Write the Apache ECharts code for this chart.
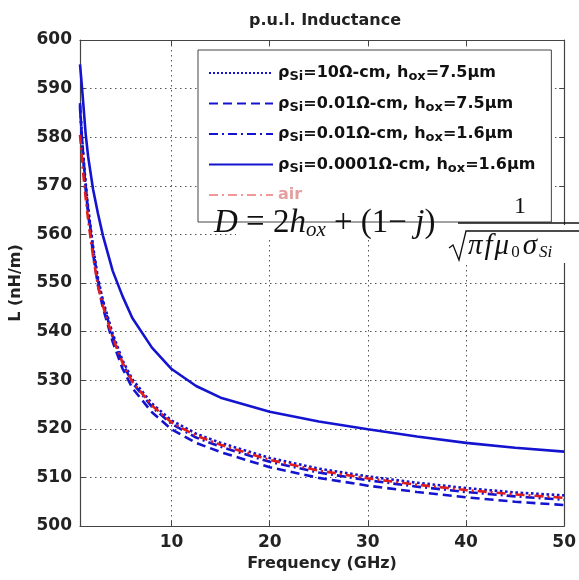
<!DOCTYPE html>
<html>
<head>
<meta charset="utf-8">
<script src="https://cdn.jsdelivr.net/npm/echarts@6/dist/echarts.min.js"></script>
<style>html,body{margin:0;padding:0;background:#fff}#c{width:579px;height:580px}</style>
</head>
<body>
<div id="c"></div>
<script>
const freq = [0.67, 0.8, 1, 1.25, 1.5, 2, 2.5, 3, 4, 5, 6, 8, 10, 12.5, 15, 20, 25, 30, 35, 40, 45, 50];
const L_rho10_h75 = [586.5, 582.5, 576.5, 570.5, 565.5, 557.5, 551, 546.5, 539.6, 534.1, 530.2, 525.2, 521.7, 519, 517.1, 514, 511.8, 510.2, 508.9, 507.8, 506.9, 506.3];
const L_rho001_h75 = [587, 582, 575.5, 569.3, 564.2, 556, 549.5, 544.9, 537.9, 532.4, 528.4, 523.4, 519.9, 517.1, 515.2, 512.1, 509.9, 508.3, 507, 505.9, 505, 504.3];
const L_rho001_h16 = [586, 582, 576, 570, 565, 557, 550.5, 546, 539, 533.5, 529.5, 524.5, 521, 518.2, 516.3, 513.2, 511, 509.4, 508.1, 507, 506.1, 505.4];
const L_rho00001_h16 = [595, 592, 587, 580.6, 576, 569.3, 564.3, 559.8, 552.5, 547.3, 542.8, 536.7, 532.3, 528.8, 526.4, 523.5, 521.5, 519.9, 518.4, 517.1, 516.1, 515.3];
const L_air = [580.5, 577.5, 572.5, 567.5, 563, 555.5, 549.5, 545.3, 538.8, 533.6, 529.7, 524.8, 521.3, 518.6, 516.7, 513.6, 511.4, 509.8, 508.5, 507.4, 506.5, 505.8];
const xTicks = [10, 20, 30, 40, 50];
const seriesNames = [
  'ρ{s|Si}=10Ω-cm, h{s|ox}=7.5μm',
  'ρ{s|Si}=0.01Ω-cm, h{s|ox}=7.5μm',
  'ρ{s|Si}=0.01Ω-cm, h{s|ox}=1.6μm',
  'ρ{s|Si}=0.0001Ω-cm, h{s|ox}=1.6μm',
  'air'
];
const title = 'p.u.l. Inductance';
const xName = 'Frequency (GHz)';
const yName = 'L (nH/m)';

const BLUE = '#1414d0', RED = '#e01c1c';
const FONT = 'DejaVu Sans, Verdana, sans-serif';
const SERIF = 'Liberation Serif, Times New Roman, serif';

function pairs(ys){ return freq.map((f,i)=>[f, ys[i]]); }
function mk(name, ys, color, type, z){
  return {
    name, type:'line', data: pairs(ys), symbol:'none', smooth:false,
    lineStyle:{color, width:2.6, type}, itemStyle:{color}, z, animation:false, clip:true
  };
}

const chart = echarts.init(document.getElementById('c'), null, {renderer:'canvas'});
const gridLine = {show:true, lineStyle:{color:'#555', width:1, type:[1.5,3.5]}};
const axLine = {show:true, onZero:false, lineStyle:{color:'#444', width:1.2}};
chart.setOption({
  animation:false,
  backgroundColor:'#fff',
  title:{text:title, left:320, textAlign:'center', top:8,
    textStyle:{fontFamily:FONT, fontWeight:'bold', fontSize:16, color:'#222'}},
  grid:{left:80, right:10, top:40, bottom:54},
  xAxis:[{
    type:'value', min:0.67, max:50,
    name:xName, nameLocation:'middle', nameGap:30,
    nameTextStyle:{fontFamily:FONT, fontWeight:'bold', fontSize:16, color:'#222'},
    axisLine:axLine,
    axisTick:{show:true, inside:true, length:5, customValues:xTicks, lineStyle:{color:'#444'}},
    axisLabel:{customValues:xTicks, margin:8, fontFamily:FONT, fontWeight:'bold', fontSize:17, color:'#222'},
    splitLine:gridLine
  },{
    type:'value', min:0.67, max:50, position:'top',
    axisLine:axLine,
    axisTick:{show:true, inside:true, length:5, customValues:xTicks, lineStyle:{color:'#444'}},
    axisLabel:{show:false}, splitLine:{show:false}
  }],
  yAxis:[{
    type:'value', min:500, max:600, interval:10,
    name:yName, nameLocation:'middle', nameGap:56, nameRotate:90,
    nameTextStyle:{fontFamily:FONT, fontWeight:'bold', fontSize:16, color:'#222'},
    axisLine:axLine,
    axisTick:{show:true, inside:true, length:5, lineStyle:{color:'#444'}},
    axisLabel:{margin:8, fontFamily:FONT, fontWeight:'bold', fontSize:17, color:'#222'},
    splitLine:gridLine
  },{
    type:'value', min:500, max:600, interval:10, position:'right',
    axisLine:axLine,
    axisTick:{show:true, inside:true, length:5, lineStyle:{color:'#444'}},
    axisLabel:{show:false}, splitLine:{show:false}
  }],
  legend:{
    orient:'vertical', left:198, top:50, align:'left',
    backgroundColor:'#fff', borderColor:'#444', borderWidth:1,
    padding:[15, 16, 19, 10], itemGap:12, itemWidth:64, itemHeight:14,
    itemStyle:{opacity:0},
    textStyle:{fontFamily:FONT, fontWeight:'bold', fontSize:16, color:'#111',
      rich:{s:{fontFamily:FONT, fontWeight:'bold', fontSize:13, color:'#111', padding:[8,0,0,0]}}},
    data:[
      {name:seriesNames[0]},
      {name:seriesNames[1]},
      {name:seriesNames[2]},
      {name:seriesNames[3]},
      {name:seriesNames[4], textStyle:{color:'#e4a0a0'}, lineStyle:{opacity:0.45}}
    ]
  },
  series:[
    mk(seriesNames[0], L_rho10_h75, BLUE, 'dotted', 3),
    mk(seriesNames[1], L_rho001_h75, BLUE, [9,5], 3),
    mk(seriesNames[2], L_rho001_h16, BLUE, [9,4,2,4], 3),
    mk(seriesNames[3], L_rho00001_h16, BLUE, 'solid', 3),
    mk(seriesNames[4], L_air, RED, [9,4,2,4], 4)
  ],
  graphic:[
    {type:'rect', z:100, shape:{x:236, y:225, width:210, height:14}, style:{fill:'#fff'}},
    {type:'rect', z:100, shape:{x:445, y:225, width:134, height:38}, style:{fill:'#fff'}},
    {type:'text', z:101, left:214, top:207, style:{
      text:'{i|D} = 2{i|h}{sub|ox} + (1− {i|j})',
      font:'33px '+SERIF, fill:'#111',
      rich:{i:{fontFamily:SERIF, fontStyle:'italic', fontSize:33, fill:'#111'},
            sub:{fontFamily:SERIF, fontStyle:'italic', fontSize:21, fill:'#111', padding:[14,0,0,0]}}
    }},
    {type:'text', z:101, left:514, top:195, style:{text:'1', font:'24px '+SERIF, fill:'#111'}},
    {type:'line', z:101, shape:{x1:458, y1:223, x2:579, y2:223}, style:{stroke:'#111', lineWidth:1.5}},
    {type:'polyline', z:101, shape:{points:[[449,248],[453,245],[459,260],[466,231],[579,231]]}, style:{stroke:'#111', lineWidth:1.3, fill:null}},
    {type:'text', z:101, left:468, top:232, style:{
      text:'{i|π}{i|f}{i|μ}{sub|0}{i|σ}{sub2|Si}',
      font:'italic 29px '+SERIF, fill:'#111',
      rich:{i:{fontFamily:SERIF, fontStyle:'italic', fontSize:29, fill:'#111', padding:[0,2,0,0]},
            sub:{fontFamily:SERIF, fontSize:17, fill:'#111', padding:[12,3,0,0]},
            sub2:{fontFamily:SERIF, fontStyle:'italic', fontSize:17, fill:'#111', padding:[12,0,0,0]}}
    }}
  ]
});
</script>
</body>
</html>
